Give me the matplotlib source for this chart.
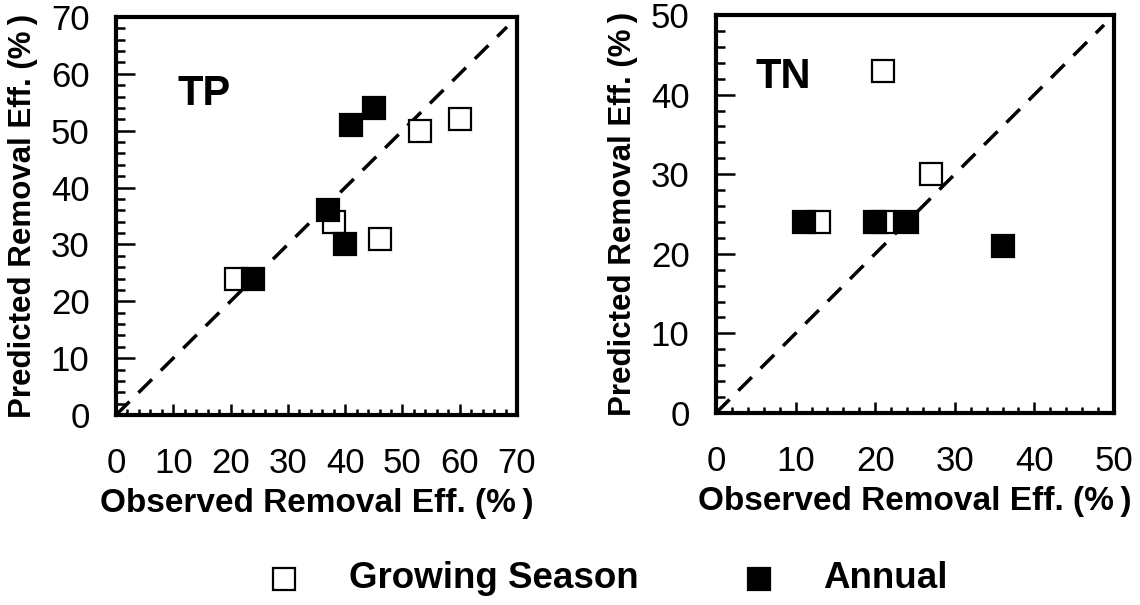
import matplotlib
matplotlib.use("Agg")
import matplotlib.pyplot as plt
from matplotlib.ticker import MultipleLocator
from matplotlib.lines import Line2D

# ---- data ----
tp_grow_obs = [21, 38, 46, 53, 60]
tp_grow_pred = [24, 34, 31, 50, 52]
tp_ann_obs = [24, 37, 40, 41, 45]
tp_ann_pred = [24, 36, 30, 51, 54]

tn_grow_obs = [21, 27, 13, 21]
tn_grow_pred = [43, 30, 24, 24]
tn_ann_obs = [11, 20, 24, 36]
tn_ann_pred = [24, 24, 24, 21]

tp_ticks = [0, 10, 20, 30, 40, 50, 60, 70]
tn_ticks = [0, 10, 20, 30, 40, 50]

xlabel = "Observed Removal Eff. (%\u2009)"
ylabel = "Predicted Removal Eff. (%\u2009)"
legend_labels = ["Growing Season", "Annual"]

plt.rcParams['font.family'] = ['Liberation Sans', 'DejaVu Sans']

W, H = 1140, 605
fig = plt.figure(figsize=(W / 100, H / 100), dpi=100)

def px_axes(left, top, right, bottom):
    return fig.add_axes([left / W, 1 - bottom / H, (right - left) / W, (bottom - top) / H])

ms = 15.5
mew = 1.6

def make_panel(ax, gx, gy, ax_x, ay, ticks, name, name_xy):
    lim = ticks[-1]
    ax.set_xlim(0, lim)
    ax.set_ylim(0, lim)
    ax.plot([0, lim * 0.975], [0, lim * 0.975], color='black', lw=2.5, dashes=(5.5, 3.6), zorder=1)
    ax.plot(gx, gy, ls='none', marker='s', ms=ms, mfc='white', mec='black', mew=mew, zorder=2)
    ax.plot(ax_x, ay, ls='none', marker='s', ms=ms, mfc='black', mec='black', mew=mew, zorder=3)
    ax.set_xticks(ticks)
    ax.set_yticks(ticks)
    ax.xaxis.set_minor_locator(MultipleLocator(2))
    ax.yaxis.set_minor_locator(MultipleLocator(2))
    ax.tick_params(which='both', direction='in', top=False, right=False, width=1.8,
                   labelsize=25)
    ax.tick_params(axis='x', which='major', length=8, pad=23)
    ax.tick_params(axis='x', which='minor', length=4)
    ax.tick_params(axis='y', which='major', length=14, pad=19)
    ax.tick_params(axis='y', which='minor', length=6.5)
    for s in ax.spines.values():
        s.set_linewidth(3)
    ax.set_xlabel(xlabel, fontsize=24, fontweight='bold', labelpad=6)
    ax.set_ylabel(ylabel, fontsize=22.5, fontweight='bold', labelpad=9)
    ax.text(name_xy[0], name_xy[1], name, fontsize=30, fontweight='bold', ha='left', va='baseline')

ax1 = px_axes(116, 17, 517, 415)
make_panel(ax1, tp_grow_obs, tp_grow_pred, tp_ann_obs, tp_ann_pred, tp_ticks, "TP", (10.7, 54.5))

ax2 = px_axes(716, 15, 1114, 413)
make_panel(ax2, tn_grow_obs, tn_grow_pred, tn_ann_obs, tn_ann_pred, tn_ticks, "TN", (5, 40.8))

# legend (placed in figure pixel coordinates)
leg_y = 1 - 579 / H
leg_items = [
    (284, 349, 'white', legend_labels[0]),
    (759, 823, 'black', legend_labels[1]),
]
for mx, tx, fc, lab in leg_items:
    fig.add_artist(Line2D([mx / W], [leg_y], transform=fig.transFigure, ls='none',
                          marker='s', ms=15.5, mfc=fc, mec='black', mew=1.6))
    fig.text(tx / W, leg_y, lab, fontsize=26.5, fontweight='bold', ha='left', va='center')

fig.savefig("out.png", dpi=100)
